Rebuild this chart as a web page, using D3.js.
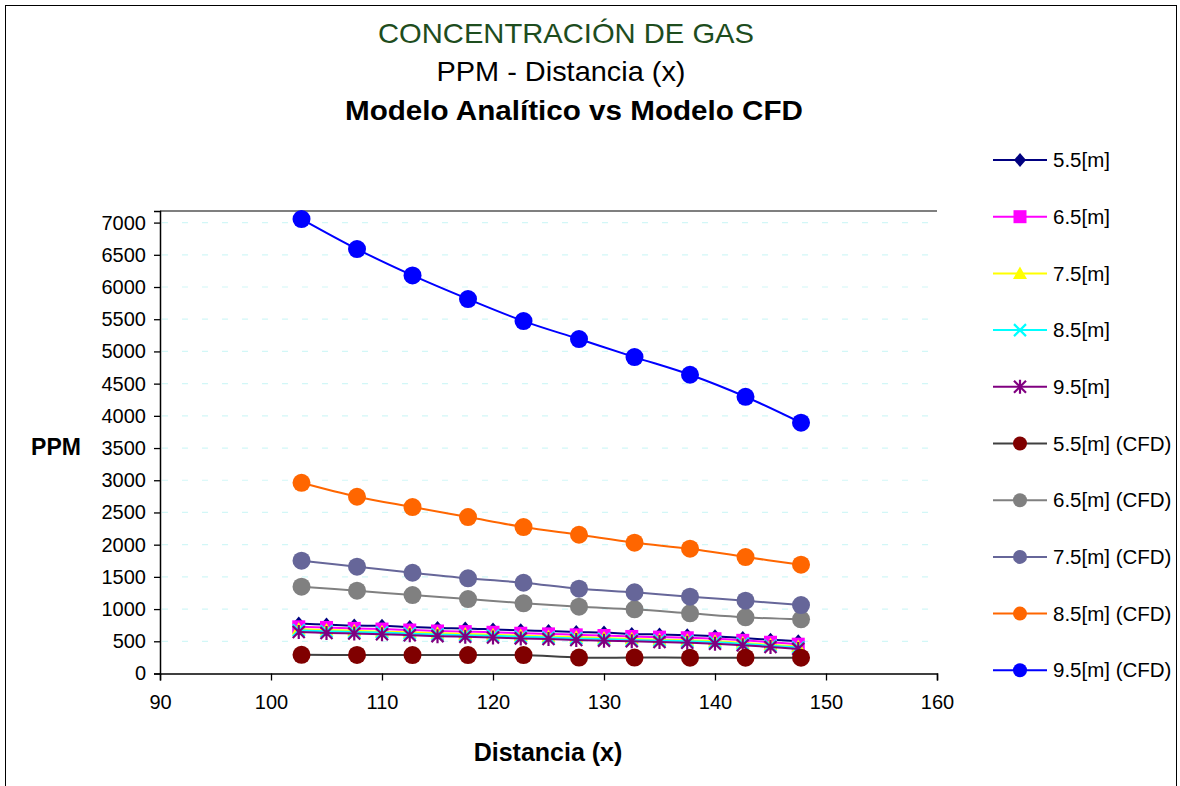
<!DOCTYPE html>
<html>
<head>
<meta charset="utf-8">
<script src="https://cdn.jsdelivr.net/npm/d3@7"></script>
<style>
  body { margin: 0; background: #fff; }
  svg { display: block; font-family: Arial, "Liberation Sans", Helvetica, sans-serif; }
</style>
</head>
<body>
<svg id="chart" width="1180" height="786"></svg>
<script>
// Distances (x) for the analytical model and the CFD model
const distAnalitico = [102.5, 105, 107.5, 110, 112.5, 115, 117.5, 120, 122.5, 125, 127.5, 130, 132.5, 135, 137.5, 140, 142.5, 145, 147.5];
const distCFD = [102.75, 107.75, 112.75, 117.75, 122.75, 127.75, 132.75, 137.75, 142.75, 147.75];

// Analytical model, PPM per height
const ana55 = [775, 760, 745, 740, 720, 705, 700, 685, 670, 660, 645, 635, 615, 605, 595, 580, 550, 525, 500];
const ana65 = [725, 715, 700, 690, 675, 660, 650, 640, 625, 615, 600, 590, 575, 565, 555, 540, 515, 485, 455];
const ana75 = [690, 675, 665, 650, 640, 625, 615, 600, 590, 575, 565, 550, 540, 525, 515, 500, 475, 445, 420];
const ana85 = [670, 655, 645, 635, 620, 605, 595, 585, 570, 560, 545, 535, 520, 510, 500, 485, 460, 430, 405];
const ana95 = [645, 630, 620, 610, 595, 580, 570, 560, 545, 535, 520, 510, 500, 490, 478, 462, 440, 410, 382];

// CFD model, PPM per height
const cfd55 = [290, 288, 287, 286, 286, 248, 247, 246, 245, 245];
const cfd65 = [1347, 1285, 1218, 1156, 1090, 1037, 996, 934, 872, 841];
const cfd75 = [1751, 1658, 1564, 1478, 1409, 1316, 1260, 1192, 1130, 1063];
const cfd85 = [2961, 2744, 2584, 2429, 2274, 2154, 2030, 1937, 1808, 1689];
const cfd95 = [7054, 6589, 6180, 5813, 5471, 5192, 4912, 4638, 4296, 3893];

const xTicks = [90, 100, 110, 120, 130, 140, 150, 160];
const yTicks = [0, 500, 1000, 1500, 2000, 2500, 3000, 3500, 4000, 4500, 5000, 5500, 6000, 6500, 7000];

const series = [
  { name: "5.5[m]", x: distAnalitico, v: ana55, line: "#000080", fill: "#000080", marker: "diamond" },
  { name: "6.5[m]", x: distAnalitico, v: ana65, line: "#ff00ff", fill: "#ff00ff", marker: "square" },
  { name: "7.5[m]", x: distAnalitico, v: ana75, line: "#ffff00", fill: "#ffff00", marker: "triangle" },
  { name: "8.5[m]", x: distAnalitico, v: ana85, line: "#00ffff", fill: "#00ffff", marker: "cross" },
  { name: "9.5[m]", x: distAnalitico, v: ana95, line: "#800080", fill: "#800080", marker: "asterisk" },
  { name: "5.5[m] (CFD)", x: distCFD, v: cfd55, line: "#404040", fill: "#800000", marker: "circle" },
  { name: "6.5[m] (CFD)", x: distCFD, v: cfd65, line: "#808080", fill: "#808080", marker: "circle" },
  { name: "7.5[m] (CFD)", x: distCFD, v: cfd75, line: "#666699", fill: "#666699", marker: "circle" },
  { name: "8.5[m] (CFD)", x: distCFD, v: cfd85, line: "#ff6600", fill: "#ff6600", marker: "circle" },
  { name: "9.5[m] (CFD)", x: distCFD, v: cfd95, line: "#0000ff", fill: "#0000ff", marker: "circle" }
];

const svg = d3.select("#chart");

// outer chart frame
svg.append("rect").attr("x", 5.5).attr("y", 5.5).attr("width", 1171).attr("height", 800)
  .attr("fill", "#fff").attr("stroke", "#000").attr("stroke-width", 1);

const x = d3.scaleLinear().domain([90, 160]).range([160, 937]);
const y = d3.scaleLinear().domain([0, 7180]).range([673.5, 211]);

// dashed horizontal gridlines
svg.append("g").selectAll("line").data(yTicks.filter(d => d > 0)).join("line")
  .attr("x1", x(90) + 2).attr("x2", x(160))
  .attr("y1", d => y(d)).attr("y2", d => y(d))
  .attr("stroke", "#d2f7f7").attr("stroke-width", 1.2).attr("stroke-dasharray", "6,14");

// top edge of plot area
svg.append("line").attr("x1", x(90)).attr("x2", x(160)).attr("y1", y(7180)).attr("y2", y(7180))
  .attr("stroke", "#000").attr("stroke-width", 1.2);

// axes
const xAxis = svg.append("g").attr("transform", `translate(0,${y(0)})`)
  .call(d3.axisBottom(x).tickValues(xTicks).tickSize(7).tickPadding(14).tickFormat(d3.format("d")));
const yAxis = svg.append("g").attr("transform", `translate(${x(90)},0)`)
  .call(d3.axisLeft(y).tickValues(yTicks).tickSize(6).tickPadding(8).tickFormat(d3.format("d")));
[xAxis, yAxis].forEach(g => {
  g.select(".domain").attr("stroke", "#000").attr("stroke-width", 1.5);
  g.selectAll(".tick line").attr("stroke", "#000").attr("stroke-width", 1.3);
  g.selectAll(".tick text").attr("fill", "#000").style("font-size", "20px").style("font-family", "Arial, 'Liberation Sans', sans-serif");
});

// marker drawing helper
function drawMarker(g, type, r, color) {
  if (type === "diamond") {
    g.append("path").attr("d", "M0,-7L6,0L0,7L-6,0Z").attr("fill", color);
  } else if (type === "square") {
    g.append("rect").attr("x", -6.5).attr("y", -6.5).attr("width", 13).attr("height", 13).attr("fill", color);
  } else if (type === "triangle") {
    g.append("path").attr("d", "M0,-7L7,5.5L-7,5.5Z").attr("fill", color);
  } else if (type === "cross") {
    g.append("path").attr("d", "M-6,-6L6,6M-6,6L6,-6").attr("stroke", color).attr("stroke-width", 2.2);
  } else if (type === "asterisk") {
    g.append("path").attr("d", "M-6,-6L6,6M-6,6L6,-6M0,-7L0,7").attr("stroke", color).attr("stroke-width", 2.2);
  } else if (type === "circle") {
    g.append("circle").attr("r", r).attr("fill", color);
  }
}

const line = d3.line().curve(d3.curveCatmullRom.alpha(0.5));

// analytical first, CFD on top
series.forEach(s => {
  const pts = s.x.map((d, i) => [x(d), y(s.v[i])]);
  const g = svg.append("g");
  g.append("path").attr("d", line(pts)).attr("fill", "none")
    .attr("stroke", s.line).attr("stroke-width", 2);
  pts.forEach(p => {
    const m = g.append("g").attr("transform", `translate(${p[0]},${p[1]})`);
    drawMarker(m, s.marker, 9, s.fill);
  });
});

// legend
const legend = svg.append("g");
series.forEach((s, i) => {
  const ly = 160 + i * 56.7;
  const row = legend.append("g").attr("transform", `translate(0,${ly})`);
  row.append("line").attr("x1", 993).attr("x2", 1047).attr("y1", 0).attr("y2", 0)
    .attr("stroke", s.line).attr("stroke-width", 2);
  const m = row.append("g").attr("transform", "translate(1020,0)");
  drawMarker(m, s.marker, 7, s.fill);
  row.append("text").attr("x", 1053).attr("y", 0).attr("dy", "0.35em")
    .style("font-size", "20.5px").attr("fill", "#000").text(s.name);
});

// titles
svg.append("text").attr("x", 566).attr("y", 43).attr("text-anchor", "middle")
  .style("font-size", "28px").attr("fill", "#1e4d1e")
  .attr("textLength", 376).attr("lengthAdjust", "spacingAndGlyphs")
  .text("CONCENTRACIÓN DE GAS");
svg.append("text").attr("x", 561).attr("y", 81).attr("text-anchor", "middle")
  .style("font-size", "28px").attr("fill", "#000")
  .attr("textLength", 249).attr("lengthAdjust", "spacingAndGlyphs")
  .text("PPM - Distancia (x)");
svg.append("text").attr("x", 574).attr("y", 120).attr("text-anchor", "middle")
  .style("font-size", "28px").style("font-weight", "bold").attr("fill", "#000")
  .attr("textLength", 458).attr("lengthAdjust", "spacingAndGlyphs")
  .text("Modelo Analítico vs Modelo CFD");

// axis titles
svg.append("text").attr("x", 56).attr("y", 455).attr("text-anchor", "middle")
  .style("font-size", "23px").style("font-weight", "bold").attr("fill", "#000").text("PPM");
svg.append("text").attr("x", 548).attr("y", 761).attr("text-anchor", "middle")
  .style("font-size", "25px").style("font-weight", "bold").attr("fill", "#000").text("Distancia (x)");
</script>
</body>
</html>
